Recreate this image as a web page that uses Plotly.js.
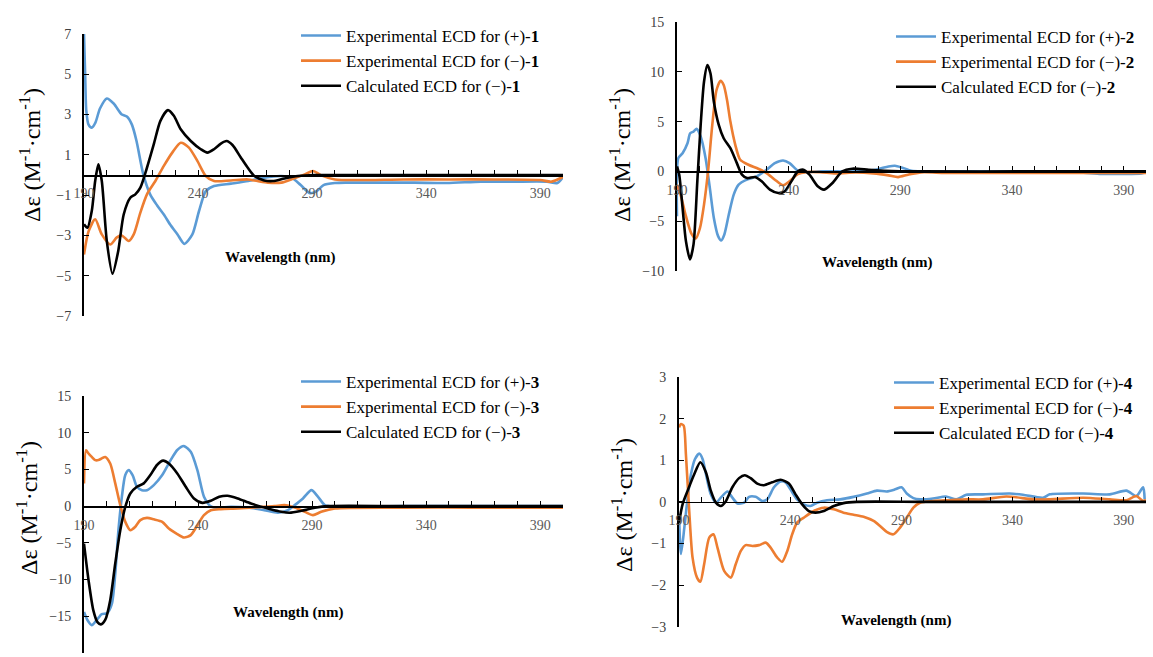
<!DOCTYPE html>
<html>
<head>
<meta charset="utf-8">
<script src="https://cdn.plot.ly/plotly-3.0.1.min.js"></script>
<style>
html,body{margin:0;padding:0;background:#fff;}
#chart{width:1153px;height:657px;}
#chart text, #chart tspan { font-family: "Liberation Serif", "Times New Roman", "DejaVu Serif", serif !important; }
</style>
</head>
<body>
<div id="chart"></div>
<script>
// ---------- Compound 1 ----------
const wl1p = [190,190.5,191,192,193.4,195,197,200,203,206.6,208.8,211,213,216,219,222,225,228,231,234,237.5,240.4,243.4,247,254.4,262,269,276.5,281,285,289,292,295,300,305,320,335,349,364,378,393,397.5,400];
const de1p = [7.0,5.0,3.2,2.5,2.35,2.6,3.3,3.8,3.55,3.0,2.9,2.5,1.7,0.03,-0.96,-1.5,-1.96,-2.5,-2.95,-3.42,-2.95,-1.8,-0.8,-0.55,-0.43,-0.3,-0.13,-0.05,-0.13,-0.5,-0.9,-0.8,-0.5,-0.4,-0.38,-0.38,-0.38,-0.4,-0.33,-0.33,-0.33,-0.4,-0.1];
const wl1m = [190,192,194.9,197.8,201.5,204.4,206.6,209.6,211.8,214.7,217.6,221.3,225,228.7,232.4,236,239.7,243.4,247,254.4,261.8,266,270.6,276.5,282,286.8,290.4,294,300,310,330,350,370,390,395,400];
const de1m = [-3.95,-2.8,-2.2,-2.95,-3.45,-3.1,-3.0,-3.28,-2.95,-1.87,-0.96,-0.3,0.45,1.11,1.6,1.36,0.7,-0.05,-0.3,-0.27,-0.22,-0.3,-0.38,-0.38,-0.17,0.03,0.2,-0.02,-0.22,-0.25,-0.22,-0.22,-0.22,-0.25,-0.33,-0.1];
const wl1c = [190,191.5,193.4,194.9,196.3,197.8,200,202.5,205,207.4,210.3,212.5,214.7,217.6,220.6,223.5,226.8,229.4,232.4,236.8,241.2,244.1,247,250,252.5,255.1,258.8,261.8,264.7,269,272.8,277.9,283.8,291,300,350,400];
const de1c = [-2.45,-2.62,-1.79,-0.3,0.53,-0.3,-3.28,-4.9,-3.78,-1.96,-1.13,-0.96,-0.63,0.36,1.53,2.69,3.22,2.94,2.27,1.69,1.28,1.11,1.28,1.56,1.69,1.49,0.86,0.36,-0.05,-0.27,-0.3,-0.17,-0.05,0,0,0,0];

// ---------- Compound 2 ----------
const wl2p = [190,190.6,192.5,194.7,195.9,197.4,198.8,200.6,202.8,204.7,206.5,208.4,209.8,211.2,213.2,215.4,217.6,221.3,225.7,230.1,233.8,237.5,240.4,244.1,246.3,253.7,262,270,278.8,284.7,287.6,290.6,295,300,320,350,370,380,390,398,400];
const de2p = [-4.5,1.33,1.83,2.83,3.83,4.0,4.27,3.5,1.33,-1.67,-4.67,-6.5,-6.93,-6.33,-4.33,-2.33,-1.33,-0.83,-0.5,0.17,0.83,1.1,0.83,0.07,-0.07,0,0,0,0.17,0.5,0.57,0.4,0.07,0,0,-0.05,-0.1,-0.25,-0.25,-0.2,-0.1];
const wl2m = [190,191.8,194,196.5,198.4,200.3,202.1,203.9,205.8,207.7,209.5,210.9,212.4,213.9,216.1,218.3,222,226.4,230.1,233.8,237.5,240.4,244.1,247.8,254,261,270,278,284.7,289,293.5,299.4,310,330,360,390,400];
const de2m = [-1.33,-2.5,-4.5,-6.27,-6.73,-5.67,-3.33,0,4.67,8.17,9.1,8.67,7.17,5.0,2.67,1.17,0.67,0.27,-0.17,-0.83,-1.4,-1.0,-0.27,-0.07,-0.07,-0.2,-0.1,-0.2,-0.4,-0.57,-0.33,-0.1,-0.15,-0.15,-0.15,-0.15,-0.15];
const wl2c = [190,191,192.5,194,195.8,197.4,199.1,200.6,202.1,203.6,205,206.5,208.7,210.9,213.9,216.8,219.1,221.3,225,227.9,231.6,235.3,238.2,241.2,244.1,246.6,249.3,253,255.9,259.6,264,268.5,275.8,283,300,350,400];
const de2c = [0.5,-0.33,-3.67,-7.0,-8.83,-7.33,-1.0,4.67,9.0,10.67,9.83,7.0,4.67,3.33,2.33,0.83,-0.33,-0.67,-0.57,-1.0,-1.83,-2.17,-2.0,-1.0,0,0.17,-0.33,-1.5,-1.83,-1.17,0,0.27,0.17,0.07,0,0,0];

// ---------- Compound 3 ----------
const wl3p = [190,191.5,193.4,195.6,197.8,200,202.2,203.7,205.1,206.6,208.1,209.6,211.3,213.2,215.4,217.6,220.6,224.3,228,230.9,233.8,236.8,239.7,242.6,244.9,247,254.4,261.8,269,275,279.4,282.4,286,289.7,292.6,295.6,300,330,360,400];
const de3p = [-14.4,-15.5,-16.2,-15.5,-14.7,-14.6,-13.3,-9.2,-3.27,1.27,4.23,4.9,4.23,2.64,2.18,2.18,2.86,4.23,6.27,7.64,8.18,7.4,4.9,1.27,0.14,-0.18,-0.1,-0.18,-0.55,-0.9,-0.55,0.14,1.05,2.18,1.27,0.14,-0.1,0,0,0];
const wl3m = [190,190.9,191.9,193.4,194.9,196.3,197.8,199.3,201.5,203.7,205.9,208.1,210.3,212.5,214.7,217.6,220.6,224.3,227.2,230.9,233.8,236.8,239.7,242.6,245.6,250,257.4,264.7,273.5,277.9,282.4,286.8,290.4,294,300,330,360,400];
const de3m = [3.1,7.6,7.2,6.7,6.27,6.27,6.5,6.7,5.8,3.1,0.14,-2.14,-3.27,-2.8,-1.9,-1.6,-1.8,-2.14,-3.05,-3.8,-4.27,-3.95,-2.6,-1.23,-0.55,-0.4,-0.32,-0.18,0,0.14,-0.18,-0.77,-1.23,-0.77,-0.32,-0.2,-0.2,-0.2];
const wl3c = [190,192,194.1,195.9,197.4,199.3,201.5,203.7,205.9,208.1,210.3,213.2,216.2,219.1,222,224.7,227.2,230.9,234.6,238.2,241.9,245.6,249.3,252.9,257.4,263.2,270.6,276.5,280.1,285.3,291.2,297,330,400];
const de3c = [-5.1,-10.1,-14.2,-15.8,-16.1,-15.5,-12.8,-7.8,-3.27,-0.1,1.73,2.64,3.1,4.23,5.6,6.2,5.8,4.45,2.64,1.05,0.45,0.73,1.27,1.41,1.05,0.36,-0.32,-0.77,-0.9,-0.64,-0.23,0,0,0];

// ---------- Compound 4 ----------
const wl4p = [190,190.9,192.4,193.9,195.4,197.2,199.1,200.6,202.1,204.3,206.6,208.8,211.8,214,216.3,219.3,221.5,224.5,227.5,229.7,232.7,235.7,237.9,240.1,243.1,246.1,249.1,252.1,256.6,262.5,268.5,274.5,279,283.4,287.2,290.1,292.4,295.4,298.4,304.2,310,314.7,319.2,326.7,338.7,344.7,353.7,356.7,371.7,383.7,391.2,395.7,398.7,399.4];
const de4p = [-0.3,-1.25,-0.62,0.1,0.67,1.03,1.16,1.03,0.67,0.18,-0.02,0.1,0.25,0.1,-0.04,-0.02,0.12,0.12,0.02,0.06,0.35,0.49,0.47,0.3,0.06,-0.06,-0.1,-0.02,0.04,0.06,0.12,0.2,0.27,0.25,0.3,0.35,0.2,0.09,0.06,0.08,0.13,0.06,0.17,0.18,0.2,0.17,0.1,0.18,0.2,0.18,0.27,0.14,0.35,0.06];
const wl4m = [190,190.9,192.1,193.1,194.6,196.1,198.1,199.6,201.3,203.6,205.5,207.3,210.3,213.3,215.5,217.8,220,223,226,229,231.2,234.2,236.4,238.7,240.9,243.1,246.1,250.6,255.1,259.6,264,268.5,273,277.5,280.4,283.4,286.4,289.4,292.4,295.4,298.4,304.3,311.8,319.3,326.7,337.2,349.2,356.7,371.7,383.7,391.2,395.7,398.7,400];
const de4m = [1.79,1.87,1.83,1.15,-0.22,-1.34,-1.82,-1.92,-1.5,-0.86,-0.78,-1.1,-1.66,-1.82,-1.5,-1.18,-1.04,-1.06,-1.04,-0.98,-1.1,-1.34,-1.44,-1.18,-0.78,-0.5,-0.38,-0.22,-0.14,-0.18,-0.26,-0.31,-0.36,-0.46,-0.58,-0.72,-0.78,-0.62,-0.38,-0.14,-0.02,0.02,0.04,0.06,0.06,0.13,0.06,0.06,0.1,0.06,0.04,0.14,0.02,0.05];
const wl4c = [190,191.6,193.9,196.9,199.6,202.1,204.3,206.6,208.8,211,214,217,219.6,222.2,225.2,228.2,231.9,235.7,239.4,242.4,245.4,248.4,251.3,255.1,259.6,264,270,300,350,400];
const de4c = [-0.5,-0.06,0.27,0.67,0.95,0.71,0.27,-0.02,-0.1,0.01,0.35,0.57,0.64,0.57,0.44,0.4,0.47,0.53,0.44,0.18,-0.06,-0.22,-0.26,-0.22,-0.1,-0.03,0,0,0,0];

const compounds = ['1','2','3','4'];
const xTickVals = [190,240,290,340,390];
const yRanges = [[-7,7],[-10,15],[-20,15],[-3,3]];
const yTick0 = [-7,-10,-20,-3];
const yDtick = [2,5,5,1];

const seriesX = [[wl1p,wl1m,wl1c],[wl2p,wl2m,wl2c],[wl3p,wl3m,wl3c],[wl4p,wl4m,wl4c]];
const seriesY = [[de1p,de1m,de1c],[de2p,de2m,de2c],[de3p,de3m,de3c],[de4p,de4m,de4c]];

const W = 1153, H = 657;
const colors = ['#5B9BD5','#ED7D31','#000000'];
const labelFn = [
  n => 'Experimental ECD for (+)-<b>' + n + '</b>',
  n => 'Experimental ECD for (\u2212)-<b>' + n + '</b>',
  n => 'Calculated ECD for (\u2212)-<b>' + n + '</b>'
];
// panel geometry in pixels
const px = [[84,563],[677,1146],[84,563],[679,1146]];
const py = [[34,316],[22,271],[396,653],[377,626.7]];
const legendPos = [[296,18],[891,19],[296,364],[889,365]];
const ytitlePos = [[30,155],[620,155],[27,508],[622,505]];
const wlPos = [[280,257],[877,262],[288,612],[896,620]];

const font = 'Liberation Serif, Times New Roman, serif';
const traces = [];
const layout = {
  width: W, height: H,
  margin: {l:0,r:0,t:0,b:0},
  paper_bgcolor: '#fff', plot_bgcolor: 'rgba(0,0,0,0)',
  font: {family: font, color: '#000'},
  annotations: [],
  showlegend: true
};

for (let i = 0; i < 4; i++) {
  const xa = i === 0 ? 'x' : 'x' + (i+1);
  const ya = i === 0 ? 'y' : 'y' + (i+1);
  const lg = i === 0 ? 'legend' : 'legend' + (i+1);
  for (let s = 0; s < 3; s++) {
    traces.push({
      x: seriesX[i][s], y: seriesY[i][s],
      type: 'scatter', mode: 'lines',
      line: {color: colors[s], width: 2.6, shape: 'spline', smoothing: 0.7},
      name: labelFn[s](compounds[i]),
      xaxis: xa, yaxis: ya, legend: lg
    });
  }
  const yd = [1 - py[i][1]/H, 1 - py[i][0]/H];
  const xd = [px[i][0]/W, px[i][1]/W];
  const r = yRanges[i];
  const pos = yd[0] + (0 - r[0])/(r[1]-r[0])*(yd[1]-yd[0]);
  const xkey = i === 0 ? 'xaxis' : 'xaxis' + (i+1);
  const ykey = i === 0 ? 'yaxis' : 'yaxis' + (i+1);
  layout[xkey] = {
    domain: xd, range: [190, 400], anchor: 'free', position: pos,
    tickvals: xTickVals, ticks: 'inside', ticklen: 5, tickwidth: 1, tickcolor: '#000',
    minor: {dtick: 10, tick0: 190, ticks: 'inside', ticklen: 5, tickwidth: 1, tickcolor: '#000'},
    showline: true, linecolor: '#000', linewidth: 1.6,
    showgrid: false, zeroline: false,
    tickfont: {family: font, size: 14, color: '#595959'},
    ticklabelstandoff: 5
  };
  layout[ykey] = {
    domain: yd, range: r, anchor: xa,
    tick0: yTick0[i], dtick: yDtick[i], ticks: 'inside', ticklen: 5, tickwidth: 1, tickcolor: '#000',
    showline: true, linecolor: '#000', linewidth: 2,
    showgrid: false, zeroline: false,
    tickfont: {family: font, size: 14, color: '#404040'},
    ticklabelstandoff: 8
  };
  layout[lg] = {
    x: legendPos[i][0]/W, y: 1 - legendPos[i][1]/H, xanchor: 'left', yanchor: 'top',
    bgcolor: 'rgba(0,0,0,0)', borderwidth: 0,
    font: {family: font, size: 17, color: '#000'},
    itemwidth: 40, tracegroupgap: 0
  };
  layout.annotations.push({
    xref: 'paper', yref: 'paper', x: ytitlePos[i][0]/W, y: 1 - ytitlePos[i][1]/H,
    text: '\u0394\u03b5 (M<sup>-1</sup>\u00b7cm<sup>-1</sup>)', textangle: -90, showarrow: false,
    font: {family: font, size: 24, color: '#000'}, xanchor: 'center', yanchor: 'middle'
  });
  layout.annotations.push({
    xref: 'paper', yref: 'paper', x: wlPos[i][0]/W, y: 1 - wlPos[i][1]/H,
    text: '<b>Wavelength (nm)</b>', showarrow: false,
    font: {family: font, size: 15, color: '#000'}, xanchor: 'center', yanchor: 'middle'
  });
}

Plotly.newPlot('chart', traces, layout, {staticPlot: true, displayModeBar: false});
</script>
</body>
</html>
